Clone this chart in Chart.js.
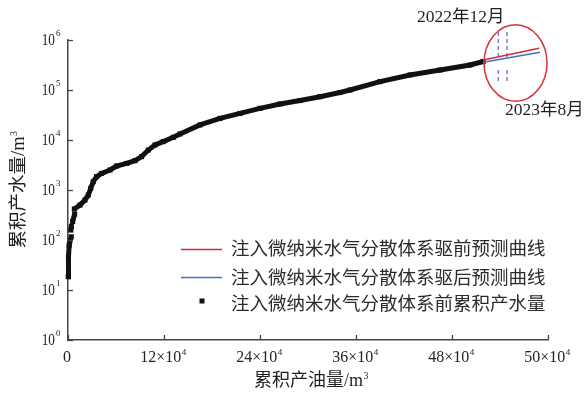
<!DOCTYPE html>
<html>
<head>
<meta charset="utf-8">
<script src="https://cdn.jsdelivr.net/npm/chart.js@4.4.0/dist/chart.umd.min.js"></script>
<style>html,body{margin:0;padding:0;background:#fff;}</style>
</head>
<body>
<canvas id="myChart" width="586" height="401"></canvas>
<script>
// cumulative oil (x) vs cumulative water (y); null = gap in the curve
const oilCum = [300, 600, 1500, 4000, 4000, 3500, 4200, 4200, 5800, 8300, 8300,
  7900, 15000, 21250, 25400, 28400, 31600, 35800, 42000, 52500, 60800, 73300, 83700,
  92000, 100400, 108700, 119000, 131600, 140000, 165000, 190000, 215000, 240000,
  265000, 290000, 315000, 340000, 352500, 390000, 427500, 465000, 502500, 519000];
const waterCum = [18.5, 46, 79, 116, null, 158, 188, null, 234, 331, null,
  417, 500, 631, 794, 1080, 1470, 1850, 2150, 2512, 3020, 3400, 3870,
  4650, 6300, 7940, 9300, 11300, 13200, 20000, 27000, 34000, 43000,
  52500, 61500, 73500, 89000, 100000, 147000, 200000, 251000, 316000, 371000];

// forecast lines
const beforeOil = [519000, 589000];
const beforeWater = [400000, 682000];
const afterOil = [519000, 590000];
const afterWater = [358000, 567000];

// date marks (2022-12, 2023-8)
const markOil = [537900, 548750];
const markUpper = [1.45e6, 4.4e5];
const markLower = [2.5e5, 1.32e5];

const seriesNames = ['注入微纳米水气分散体系驱前预测曲线', '注入微纳米水气分散体系驱后预测曲线', '注入微纳米水气分散体系前累积产水量'];

const xTicks = [0, 120000, 240000, 360000, 480000, 600000];
const xTickText = ['0', '12×10', '24×10', '36×10', '48×10', '50×10'];
const xTickSup = ['', '4', '4', '4', '4', '4'];
const yTicks = [1, 10, 100, 1000, 10000, 100000, 1000000];
const yTickSup = ['0', '1', '2', '3', '4', '5', '6'];

const FONT = '"Liberation Serif", "Noto Sans CJK SC", serif';
const AXIS = '#4a4444';
const TXT = '#231f20';

function pts(xs, ys) { return xs.map((x, i) => ({x: x, y: ys[i]})); }

const markSets = [];
markOil.forEach((x) => {
  markSets.push({type: 'line', data: [{x: x, y: markUpper[0]}, {x: x, y: markUpper[1]}],
    borderColor: '#7a7ed4', borderWidth: 1.5, borderDash: [4, 3], pointRadius: 0, clip: false});
  markSets.push({type: 'line', data: [{x: x, y: markLower[0]}, {x: x, y: markLower[1]}],
    borderColor: '#7a7ed4', borderWidth: 1.5, borderDash: [4, 3], pointRadius: 0, clip: false});
});

function textSup(ctx, base, sup, x, y, size, supSize, dy) {
  ctx.font = size + 'px ' + FONT;
  const w1 = ctx.measureText(base).width;
  ctx.font = supSize + 'px ' + FONT;
  const w2 = ctx.measureText(sup).width;
  return {w1: w1, w2: w2};
}

const decor = {
  id: 'decor',
  afterDraw(chart) {
    const ctx = chart.ctx;
    const xs = chart.scales.x, ys = chart.scales.y;
    const area = chart.chartArea;
    ctx.save();
    ctx.strokeStyle = AXIS;
    ctx.lineWidth = 1.3;
    // inward ticks
    xTicks.forEach((v) => {
      const px = Math.round(xs.getPixelForValue(v)) + 0.5;
      ctx.beginPath(); ctx.moveTo(px, area.bottom); ctx.lineTo(px, area.bottom - 5); ctx.stroke();
    });
    yTicks.forEach((v) => {
      const py = Math.round(ys.getPixelForValue(v)) + 0.5;
      ctx.beginPath(); ctx.moveTo(area.left, py); ctx.lineTo(area.left + 5, py); ctx.stroke();
    });

    ctx.fillStyle = TXT;
    ctx.textBaseline = 'middle';
    ctx.textAlign = 'left';
    // x tick labels
    xTicks.forEach((v, i) => {
      const px = xs.getPixelForValue(v);
      const m = textSup(ctx, xTickText[i], xTickSup[i], 0, 0, 16, 9);
      const start = px - (m.w1 + m.w2) / 2 - 1;
      ctx.font = '16px ' + FONT;
      ctx.fillText(xTickText[i], start, area.bottom + 18);
      ctx.font = '9px ' + FONT;
      ctx.fillText(xTickSup[i], start + m.w1 + 0.5, area.bottom + 13);
    });
    // y tick labels (narrow, like the original)
    yTicks.forEach((v, i) => {
      const py = ys.getPixelForValue(v);
      ctx.save();
      ctx.translate(55, py + 1);
      ctx.scale(0.83, 1);
      ctx.font = '16px ' + FONT;
      ctx.textAlign = 'right';
      ctx.fillText('10', 0, 0);
      ctx.restore();
      ctx.font = '9px ' + FONT;
      ctx.textAlign = 'left';
      ctx.fillText(yTickSup[i], 56, py - 6);
    });

    // axis titles
    let m = textSup(ctx, '累积产油量/m', '3', 0, 0, 18, 10);
    let start = 311 - (m.w1 + m.w2) / 2;
    ctx.font = '18px ' + FONT;
    ctx.fillText('累积产油量/m', start, 381);
    ctx.font = '10px ' + FONT;
    ctx.fillText('3', start + m.w1 + 0.5, 376);

    ctx.save();
    ctx.translate(19, 190);
    ctx.rotate(-Math.PI / 2);
    m = textSup(ctx, '累积产水量/m', '3', 0, 0, 18.5, 10);
    start = -(m.w1 + m.w2) / 2;
    ctx.font = '18.5px ' + FONT;
    ctx.fillText('累积产水量/m', start, 0);
    ctx.font = '10px ' + FONT;
    ctx.fillText('3', start + m.w1 + 0.5, -5);
    ctx.restore();

    // legend
    const ds = chart.data.datasets;
    const rows = [[ds[0], 249.5, 250.5], [ds[1], 277.5, 279.5], [ds[2], 301, 305]];
    rows.forEach((r, i) => {
      const d = r[0];
      if (i < 2) {
        ctx.strokeStyle = d.borderColor; ctx.lineWidth = 1.5;
        ctx.beginPath(); ctx.moveTo(181, r[1]); ctx.lineTo(222, r[1]); ctx.stroke();
      } else {
        ctx.fillStyle = d.backgroundColor;
        ctx.fillRect(199.5, r[1] - 2.5, 5, 5);
      }
      ctx.fillStyle = '#2b2b2b';
      ctx.font = '18.5px ' + FONT;
      ctx.textAlign = 'left';
      ctx.fillText(d.label, 231, r[2]);
    });

    // ellipse around forecast region
    const cx = xs.getPixelForValue(559400), cy = ys.getPixelForValue(347000);
    ctx.strokeStyle = '#d6323a';
    ctx.lineWidth = 1.5;
    ctx.beginPath(); ctx.ellipse(cx, cy, 31.5, 38.3, 0, 0, Math.PI * 2); ctx.stroke();

    // date annotations
    ctx.fillStyle = TXT;
    ctx.font = '17.5px ' + FONT;
    ctx.fillText('2022年12月', 417, 17);
    ctx.fillText('2023年8月', 505, 110.5);
    ctx.restore();
  }
};

const ctx = document.getElementById('myChart').getContext('2d');
const chart = new Chart(ctx, {
  type: 'scatter',
  data: {
    datasets: [
      {label: seriesNames[0], type: 'line', data: pts(beforeOil, beforeWater),
        borderColor: '#d42a36', backgroundColor: '#d42a36', borderWidth: 1.5, pointRadius: 0, clip: false},
      {label: seriesNames[1], type: 'line', data: pts(afterOil, afterWater),
        borderColor: '#3f6fc0', backgroundColor: '#3f6fc0', borderWidth: 1.5, pointRadius: 0, clip: false},
      {label: seriesNames[2], data: pts(oilCum, waterCum), showLine: true, spanGaps: false,
        borderColor: '#111', backgroundColor: '#111', borderWidth: 5,
        pointStyle: 'rect', pointRadius: 3.6, pointBorderWidth: 0, clip: false},
      ...markSets
    ]
  },
  options: {
    responsive: false,
    animation: false,
    events: [],
    layout: {padding: {top: 40, right: 38, left: 0, bottom: 0}},
    plugins: {legend: {display: false}, tooltip: {enabled: false}},
    scales: {
      x: {
        type: 'linear', min: 0, max: 600000,
        grid: {display: false},
        border: {display: true, color: AXIS, width: 1.5},
        ticks: {display: false},
        afterFit: (s) => { s.height = 61; }
      },
      y: {
        type: 'logarithmic', min: 1, max: 1000000,
        grid: {display: false},
        border: {display: true, color: AXIS, width: 1.5},
        ticks: {display: false},
        afterFit: (s) => { s.width = 68; }
      }
    }
  },
  plugins: [decor]
});
</script>
</body>
</html>
